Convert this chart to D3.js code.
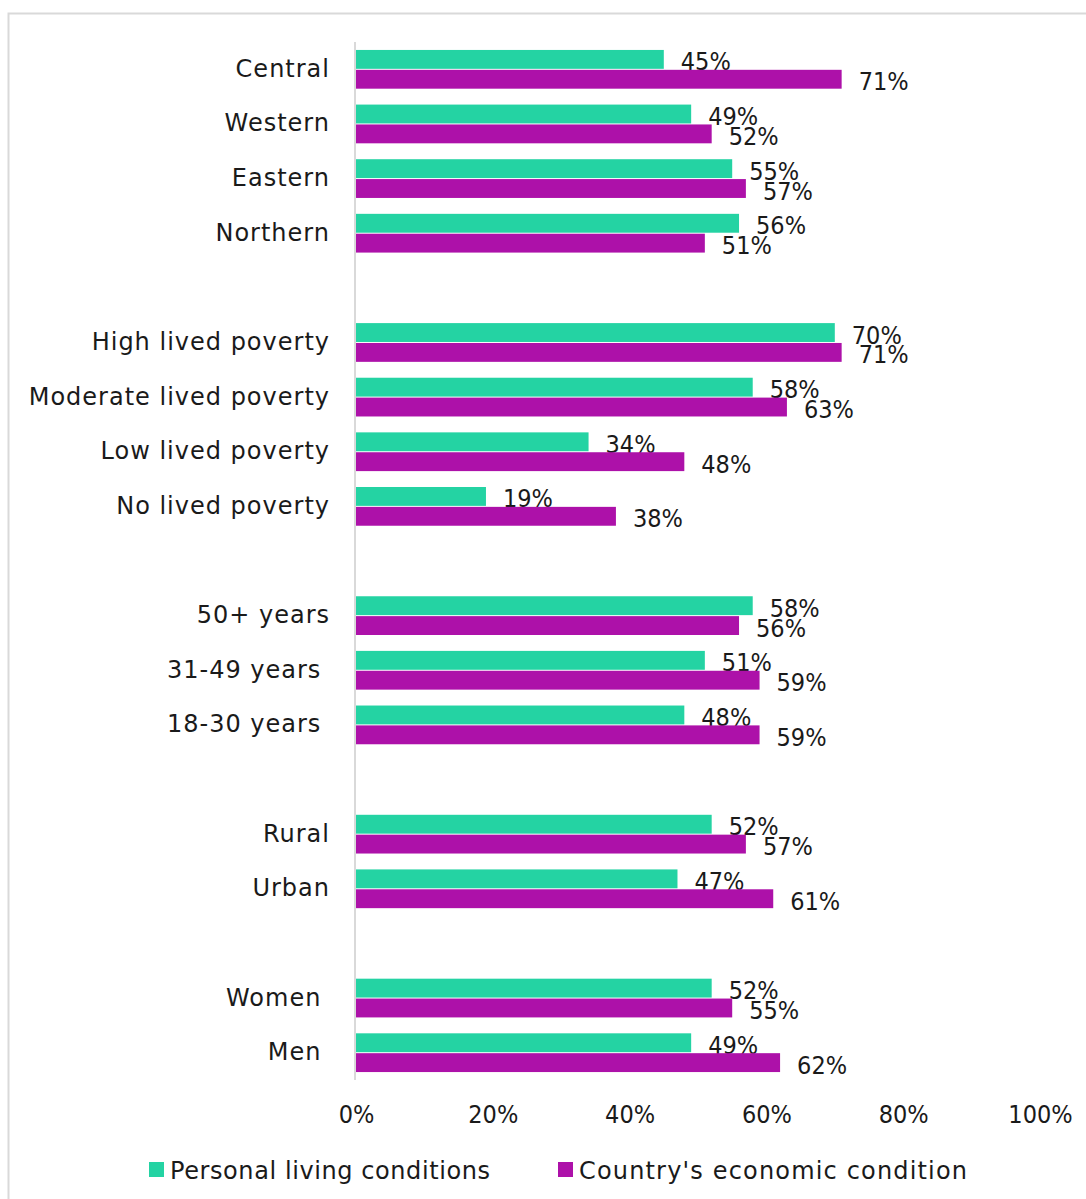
<!DOCTYPE html>
<html>
<head>
<meta charset="utf-8">
<script src="https://cdn.jsdelivr.net/npm/d3@7"></script>
<style>
  html, body { margin: 0; padding: 0; background: #fff; }
  svg text { font-family: "DejaVu Sans", sans-serif; fill: #1a1a1a; white-space: pre; }
  svg text.num { font-family: "DejaVu Sans Condensed", "DejaVu Sans", sans-serif; font-stretch: condensed; }
</style>
</head>
<body>
<svg id="chart" width="1086" height="1199"></svg>
<script>
// ---- data ----
const categories = [
  "Central", "Western", "Eastern", "Northern", "",
  "High lived poverty", "Moderate lived poverty", "Low lived poverty", "No lived poverty", " ",
  "50+ years", "31-49 years ", "18-30 years ", "  ",
  "Rural", "Urban", "   ",
  "Women ", "Men "
];
const seriesNames = ["Personal living conditions", "Country's economic condition"];
const personal = [45, 49, 55, 56, null, 70, 58, 34, 19, null, 58, 51, 48, null, 52, 47, null, 52, 49];
const country  = [71, 52, 57, 51, null, 71, 63, 48, 38, null, 56, 59, 59, null, 57, 61, null, 55, 62];
const xTicks = [0, 20, 40, 60, 80, 100];
const colors = ["#24D3A3", "#AD11A9"];

// ---- layout ----
const svg = d3.select("#chart");
const plot = { left: 356, right: 1040, top: 42, bottom: 1080 };

// frame
svg.append("rect")
  .attr("x", 8.5).attr("y", 13.5)
  .attr("width", 1100).attr("height", 1200)
  .attr("fill", "none").attr("stroke", "#d9d9d9").attr("stroke-width", 2);

const x = d3.scaleLinear().domain([0, 100]).range([plot.left, plot.right]);
const y = d3.scaleBand().domain(d3.range(categories.length)).range([plot.top, plot.bottom]).padding(0);
const ySub = d3.scaleBand().domain([0, 1]).range([0, y.bandwidth()]).paddingInner(0.05).paddingOuter(0.4);

const rows = categories.map((c, i) => ({ i, label: c, vals: [personal[i], country[i]] }));

// bars
const g = svg.append("g");
rows.forEach(r => {
  r.vals.forEach((v, s) => {
    if (v == null) return;
    const by = y(r.i) + ySub(s);
    g.append("rect")
      .attr("x", x(0))
      .attr("y", by)
      .attr("width", x(v) - x(0))
      .attr("height", ySub.bandwidth())
      .attr("fill", colors[s]);
    g.append("text")
      .attr("class", "num")
      .attr("x", x(v) + 17)
      .attr("y", by + ySub.bandwidth() / 2 + 11)
      .attr("font-size", 25)
      .text(v + "%");
  });
});

// category labels
svg.append("g").selectAll("text")
  .data(rows.filter(r => r.label.trim() !== ""))
  .join("text")
  .attr("x", 330)
  .attr("y", d => y(d.i) + y.bandwidth() / 2 + 7.5)
  .attr("text-anchor", "end")
  .attr("font-size", 24)
  .attr("letter-spacing", 1)
  .text(d => d.label);

// axis line
svg.append("line")
  .attr("x1", x(0) - 1).attr("x2", x(0) - 1)
  .attr("y1", plot.top).attr("y2", plot.bottom)
  .attr("stroke", "#d9d9d9").attr("stroke-width", 2);

// x axis tick labels
const xAxis = d3.axisBottom(x).tickValues(xTicks).tickFormat(d => d + "%").tickSize(0).tickPadding(0);
const ax = svg.append("g").attr("transform", `translate(0, 1105)`).call(xAxis);
ax.select(".domain").remove();
ax.selectAll("text")
  .attr("class", "num")
  .attr("font-size", 25)
  .attr("font-family", null)
  .attr("fill", "#1a1a1a")
  .attr("dy", "0.71em");
ax.attr("font-family", null).attr("font-size", null);

// legend
const legendX = [149, 558];
const legendLen = [320, 388];
const leg = svg.append("g");
seriesNames.forEach((n, s) => {
  leg.append("rect")
    .attr("x", legendX[s]).attr("y", 1162)
    .attr("width", 15).attr("height", 15)
    .attr("fill", colors[s]);
  leg.append("text")
    .attr("x", legendX[s] + 21).attr("y", 1179)
    .attr("font-size", 24)
    .attr("textLength", legendLen[s])
    .attr("lengthAdjust", "spacing")
    .text(n);
});
</script>
</body>
</html>
